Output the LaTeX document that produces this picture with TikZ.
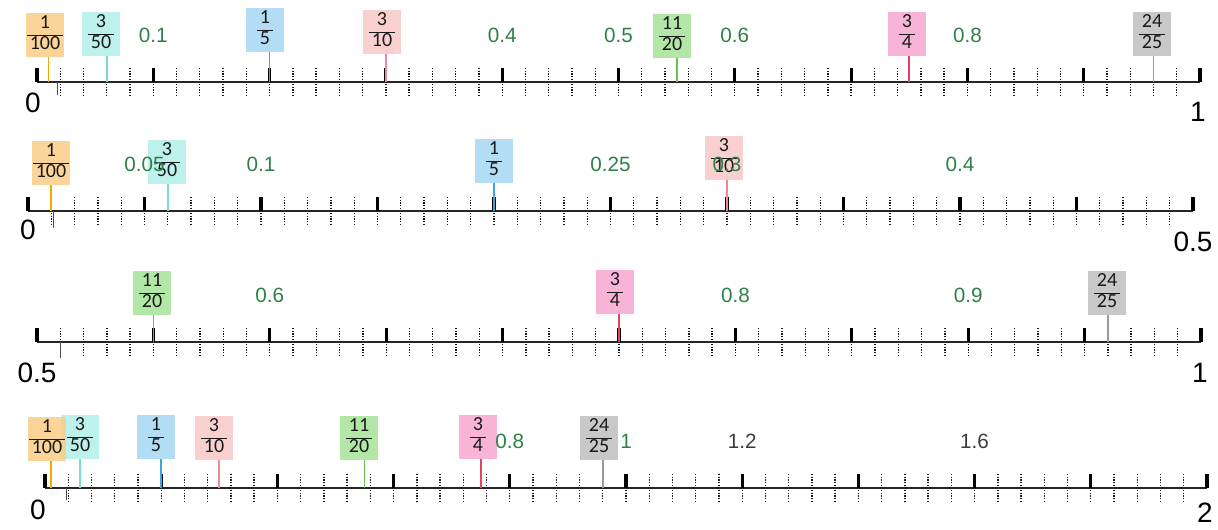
\documentclass[tikz,border=0pt]{standalone}
\usepackage{fontspec}
\setmainfont{Liberation Sans}
\newfontfamily\fracfont{Carlito}
\usetikzlibrary{calc}
\definecolor{boxOrange}{HTML}{F9CE8A}
\definecolor{lineOrange}{HTML}{F2A900}
\definecolor{boxCyan}{HTML}{B4F0E9}
\definecolor{lineCyan}{HTML}{79DCCD}
\definecolor{boxBlue}{HTML}{A8D8F3}
\definecolor{lineBlue}{HTML}{3AA8E0}
\definecolor{boxSalmon}{HTML}{F8CACA}
\definecolor{lineSalmon}{HTML}{EC8A9C}
\definecolor{boxGreen}{HTML}{A9E49C}
\definecolor{lineGreen}{HTML}{69C047}
\definecolor{boxPink}{HTML}{F6AAD2}
\definecolor{linePink}{HTML}{E5435F}
\definecolor{boxGray}{HTML}{C0C0C0}
\definecolor{lineGray}{HTML}{9A9A9A}
\definecolor{colDec}{HTML}{2E8049}
\definecolor{colDark}{HTML}{3C3C3C}
\definecolor{colAxis}{HTML}{262626}

\newcommand{\fr}[2]{{\renewcommand{\arraystretch}{0.92}\setlength{\arrayrulewidth}{0.6pt}%
    \begin{tabular}{@{\hspace{2pt}}c@{\hspace{2pt}}}#1\\\hline #2\end{tabular}}}

\begin{document}
\begin{tikzpicture}[
    x=0.75pt, y=-0.75pt,
    axisline/.style={line width=1.1pt, color=colAxis},
    majortick/.style={line width=2.4pt, color=black},
    minortick/.style={line width=1pt, color=black!90,
        dash pattern=on 1.1pt off 0.9pt},
    straytick/.style={line width=0.7pt, color=black!70},
    pinline/.style={line width=1.3pt},
    fracbox/.style={
        rectangle, fill opacity=0.88, text opacity=1, text=black!90,
        inner sep=1pt, minimum width=28pt, minimum height=33pt,
        font=\fracfont\fontsize{15}{16}\selectfont
    },
    declabel/.style={font=\fontsize{15.5}{18}\selectfont, inner sep=0pt},
    endlabel/.style={font=\fontsize{21}{24}\selectfont, text=black, inner sep=0pt}
]
    \useasboundingbox (0,0) rectangle (1218,530);

    % --- AXES with ticks ---
    \foreach \row/\yy/\xa/\xb in {1/82/37/1200, 2/211/28/1193, 3/342/37/1201, 4/488/45/1207} {
        \coordinate (ax\row s) at (\xa,\yy);
        \coordinate (ax\row e) at (\xb,\yy);
        \foreach \k in {1,...,49}
            \draw[minortick] ($(ax\row s)!\k/50!(ax\row e)$) ++(0,-14) -- ++(0,27);
        \draw[axisline] (ax\row s) -- (ax\row e);
        \foreach \k in {0,...,10}
            \draw[majortick] ($(ax\row s)!\k/10!(ax\row e)$) -- ++(0,-14);
    }

    % small thin marks under the axes
    \foreach \row/\xx/\yy/\len in {1/57/82/13, 2/53/211/17, 3/60/342/16, 4/66/488/12} {
        \coordinate (st\row) at (\xx,\yy);
        \draw[straytick] (st\row) -- ++(0,\len);
    }

    % --- END LABELS ---
    \node[endlabel] (lo1) at (33,103) {0};
    \node[endlabel] (hi1) at (1198,112) {1};
    \node[endlabel] (lo2) at (28,230) {0};
    \node[endlabel] (hi2) at (1193,242) {0.5};
    \node[endlabel] (lo3) at (37,373) {0.5};
    \node[endlabel] (hi3) at (1200,373) {1};
    \node[endlabel] (lo4) at (38,510) {0};
    \node[endlabel] (hi4) at (1205,513) {2};

    % --- FRACTION MARKERS ---
    % row/id/numerator/denominator/position on axis/box x/box y/colour
    \foreach \row/\id/\num/\den/\pos/\bx/\by/\col in {
        1/a/1/100/0.01/45/35/Orange,
        1/b/3/50/0.06/101/34/Cyan,
        1/c/1/5/0.2/265/30/Blue,
        1/d/3/10/0.3/382/32/Salmon,
        1/e/11/20/0.55/672/36/Green,
        1/f/3/4/0.75/907/34/Pink,
        1/g/24/25/0.96/1152/34/Gray,
        2/a/1/100/0.02/51/163/Orange,
        2/b/3/50/0.12/167/162/Cyan,
        2/c/1/5/0.4/494/161/Blue,
        2/d/3/10/0.6/724/158/Salmon,
        3/e/11/20/0.1/152/293/Green,
        3/f/3/4/0.5/615/292/Pink,
        3/g/24/25/0.92/1107/293/Gray,
        4/b/3/50/0.03/80/437/Cyan,
        4/a/1/100/0.005/47/439/Orange,
        4/c/1/5/0.1/156/437/Blue,
        4/d/3/10/0.15/214/438/Salmon,
        4/e/11/20/0.275/359/438/Green,
        4/f/3/4/0.375/478/437/Pink,
        4/g/24/25/0.48/599/438/Gray} {
        \coordinate (pin\row\id) at ($(ax\row s)!\pos!(ax\row e)$);
        \node[fracbox, fill=box\col] (frac\row\id) at (\bx,\by) {\fr{\num}{\den}};
        \draw[pinline, draw=line\col] (frac\row\id.south -| pin\row\id) -- (pin\row\id);
    }

    % --- DECIMAL LABELS (on major ticks) ---
    \foreach \row/\k/\txt/\col in {
        1/1/0.1/colDec, 1/4/0.4/colDec, 1/5/0.5/colDec, 1/6/0.6/colDec, 1/8/0.8/colDec,
        2/1/0.05/colDec, 2/2/0.1/colDec, 2/5/0.25/colDec, 2/6/0.3/colDec, 2/8/0.4/colDec,
        3/2/0.6/colDec, 3/6/0.8/colDec, 3/8/0.9/colDec,
        4/4/0.8/colDec, 4/5/1/colDec, 4/6/1.2/colDark, 4/8/1.6/colDark} {
        \node[declabel, text=\col] (dec\row-\k)
            at ($(ax\row s)!\k/10!(ax\row e) + (0,-47)$) {\txt};
    }

\end{tikzpicture}
\end{document}
